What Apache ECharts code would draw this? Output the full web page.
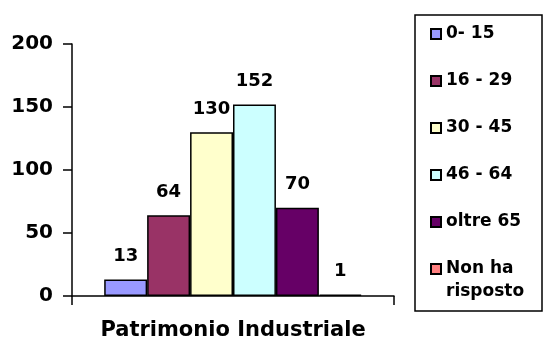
<!DOCTYPE html>
<html><head><meta charset="utf-8">
<script src="https://cdn.jsdelivr.net/npm/echarts@6/dist/echarts.min.js"></script>
<style>html,body{margin:0;padding:0;background:#fff}#c{width:544px;height:343px}</style>
</head><body><div id="c"></div>
<script>
const categories = ['Patrimonio Industriale'];
const seriesNames = ['0- 15', '16 - 29', '30 - 45', '46 - 64', 'oltre 65', 'Non ha risposto'];
const seriesValues = [13, 64, 130, 152, 70, 1];
const seriesColors = ['#9999FF', '#993366', '#FFFFCC', '#CCFFFF', '#660066', '#FF8080'];
const yTicks = [0, 50, 100, 150, 200];

const FONT = 'DejaVu Sans';
const chart = echarts.init(document.getElementById('c'), null, {renderer: 'canvas'});
const series = seriesNames.map((n, i) => ({
  name: n, type: 'bar', data: [seriesValues[i]],
  barGap: '0%', barCategoryGap: '20%',
  itemStyle: {color: seriesColors[i], borderColor: '#000', borderWidth: 1.5},
  label: {show: true, position: 'top', distance: 14, color: '#000', fontFamily: FONT, fontWeight: 'bold', fontSize: 18},
  emphasis: {disabled: true}, animation: false
}));
chart.setOption({
  animation: false,
  backgroundColor: '#fff',
  grid: {left: 72, right: 150, top: 44, bottom: 47, containLabel: false},
  xAxis: {type: 'category', data: categories,
    axisLine: {lineStyle: {color: '#000', width: 1.5}},
    axisTick: {show: true, length: 9, lineStyle: {color: '#000', width: 1.5}},
    axisLabel: {margin: 24, color: '#000', fontFamily: FONT, fontWeight: 'bold', fontSize: 21}},
  yAxis: {type: 'value', min: yTicks[0], max: yTicks[yTicks.length - 1], interval: 50,
    splitLine: {show: false},
    axisLine: {show: true, lineStyle: {color: '#000', width: 1.5}},
    axisTick: {show: true, length: 9, lineStyle: {color: '#000', width: 1.5}},
    axisLabel: {margin: 19, color: '#000', fontFamily: FONT, fontWeight: 'bold', fontSize: 20}},
  legend: {orient: 'vertical', left: 430, top: 24.5, padding: 0, itemWidth: 10, itemHeight: 10, itemGap: 28,
    icon: 'rect', selectedMode: false,
    itemStyle: {borderColor: '#000', borderWidth: 2},
    textStyle: {color: '#000', fontFamily: FONT, fontWeight: 'bold', fontSize: 17, lineHeight: 19},
    formatter: n => n === 'Non ha risposto' ? 'Non ha' : n,
    data: seriesNames
  },
  graphic: [
    {type: 'rect', shape: {x: 415, y: 15, width: 127, height: 296},
      style: {fill: 'none', stroke: '#000', lineWidth: 1.5}, silent: true},
    {type: 'text', left: 446, top: 283, silent: true,
      style: {text: 'risposto', fill: '#000', font: 'bold 17px "DejaVu Sans"'}}
  ],
  series: series
});
</script></body></html>
